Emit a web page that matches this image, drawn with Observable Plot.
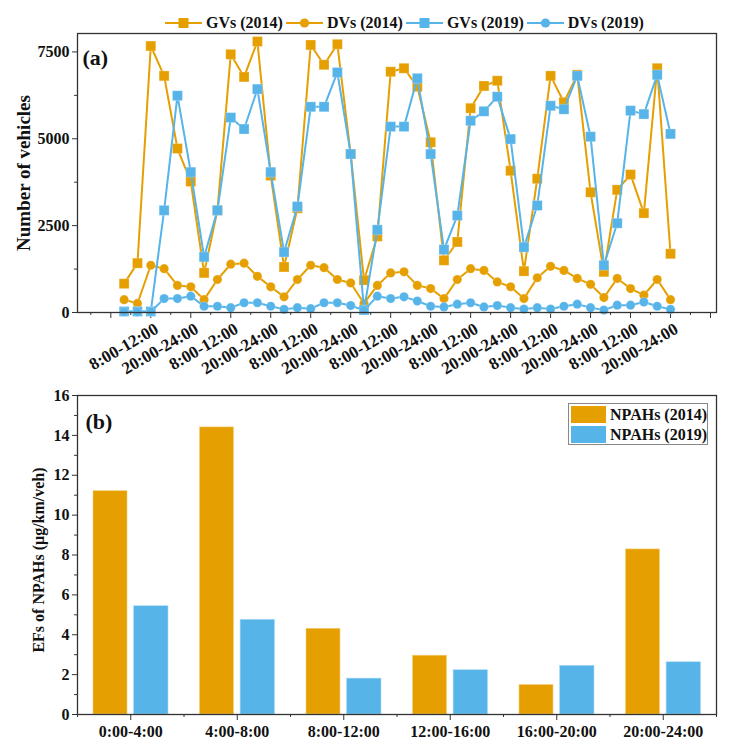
<!DOCTYPE html>
<html>
<head>
<meta charset="utf-8">
<script src="https://cdn.jsdelivr.net/npm/d3@7"></script>
<script src="https://cdn.jsdelivr.net/npm/@observablehq/plot@0.6"></script>
<style>
  html, body { margin: 0; padding: 0; background: #fff; }
  #wrap { position: relative; width: 756px; height: 755px; font-family: "Liberation Serif", "Times New Roman", serif; font-weight: bold; color: #111; }
  #legTop { position: absolute; left: 165px; top: 14px; height: 18px; display: flex; align-items: center; font-size: 16px; white-space: nowrap; }
  #legTop .txt { margin-left: 4px; margin-right: 3px; }
  #legBot { position: absolute; left: 568px; top: 403px; width: 138px; height: 40px; border: 1px solid #888; background: #fff; font-size: 16px; }
  #legBot .row { position: absolute; left: 2px; height: 17px; display: flex; align-items: center; }
  #legBot .sw { width: 35px; height: 17px; margin-right: 4px; }
  svg { display: block; }
</style>
</head>
<body>
<div id="wrap">
  <div id="top"></div>
  <div id="bot"></div>
  <div id="legTop"></div>
  <div id="legBot"></div>
</div>
<script>
const orange = "#E69F00";
const blue = "#56B4E9";

const periods = ["0:00-4:00", "4:00-8:00", "8:00-12:00", "12:00-16:00", "16:00-20:00", "20:00-24:00"];

// Panel (a): number of vehicles, 7 days x 6 periods
const gv2014 = [830,1420,7670,6810,4720,3770,1140,2940,7430,6780,7800,3940,1310,3000,
                7700,7130,7720,4560,930,2190,6930,7030,6500,4900,1500,2030,5880,6520,6670,
                4080,1190,3850,6810,6050,6840,3460,1170,3530,3970,2860,7030,1690];
const dv2014 = [370,260,1360,1260,780,740,370,950,1390,1420,1040,740,450,950,
                1360,1290,950,850,260,780,1140,1170,780,690,400,950,1260,1210,880,
                740,400,1000,1330,1210,980,810,430,980,690,500,950,370];
const gv2019 = [30,30,30,2940,6240,4040,1600,2940,5610,5280,6430,4040,1740,3050,
                5920,5920,6910,4560,70,2380,5350,5350,6740,4560,1810,2790,5520,5790,6210,
                4990,1880,3080,5950,5850,6810,5060,1360,2570,5810,5710,6840,5140];
const dv2019 = [20,20,20,400,400,470,180,180,140,280,280,180,90,140,
                110,280,280,200,60,470,400,450,330,180,160,240,280,160,200,
                140,100,140,100,180,240,140,70,210,210,300,180,90];

// Panel (b): EFs of NPAHs
const npahs2014 = [11.2, 14.4, 4.3, 2.95, 1.48, 8.28];
const npahs2019 = [5.43, 4.75, 1.8, 2.22, 2.44, 2.62];

const seriesA = [
  {name: "GVs (2014)", values: gv2014, color: orange, symbol: "square"},
  {name: "DVs (2014)", values: dv2014, color: orange, symbol: "circle"},
  {name: "GVs (2019)", values: gv2019, color: blue, symbol: "square"},
  {name: "DVs (2019)", values: dv2019, color: blue, symbol: "circle"}
];

const font = "'Liberation Serif', 'Times New Roman', serif";
const style = {fontFamily: font, fontWeight: "bold", fontSize: "16px", color: "#111", background: "transparent", overflow: "visible"};

const nPts = gv2014.length;
const majorX = d3.range(-1, 45, 3);
const minorX = d3.range(-2.5, 45, 3);

const marksA = [
  Plot.axisY({ticks: [0, 2500, 5000, 7500], tickSize: 5, tickPadding: 3, label: null, stroke: "#333", tickFormat: d3.format("d")}),
  Plot.axisY({ticks: [1250, 3750, 6250], tickSize: 3, tickFormat: () => "", label: null, stroke: "#333"}),
  Plot.axisX({ticks: majorX, tickSize: 6, tickPadding: 4, tickRotate: -30, label: null, stroke: "#333", fontSize: 17,
              textStroke: "none", dx: 0,
              tickFormat: i => (i >= 0 && i < nPts) ? periods[((i % 6) + 6) % 6] : ""}),
  Plot.axisX({ticks: minorX, tickSize: 3, tickFormat: () => "", label: null, stroke: "#333"})
];
for (const s of seriesA) {
  const rows = s.values.map((v, i) => ({i, v}));
  marksA.push(Plot.line(rows, {x: "i", y: "v", stroke: s.color, strokeWidth: 2}));
  marksA.push(Plot.dot(rows, {x: "i", y: "v", fill: s.color, symbol: s.symbol,
                              r: s.symbol === "square" ? 5.6 : 4.6, stroke: "#fff", strokeWidth: 0.4, strokeOpacity: 0.6}));
}
marksA.push(Plot.frame({stroke: "#333", strokeWidth: 1.3}));
marksA.push(Plot.text(["(a)"], {frameAnchor: "top-left", dx: 5, dy: 16, fontSize: 22, textAnchor: "start", fill: "#111"}));
marksA.push(Plot.text(["Number of vehicles"], {frameAnchor: "left", dx: -54, rotate: -90, fontSize: 19, textAnchor: "middle", fill: "#111"}));

const chartA = Plot.plot({
  width: 756, height: 380,
  marginLeft: 77, marginRight: 40, marginTop: 33, marginBottom: 68,
  style,
  x: {domain: [-3.5, 44.45], axis: null},
  y: {domain: [0, 8030], axis: null},
  marks: marksA
});
document.getElementById("top").appendChild(chartA);

// shift rotated x tick labels slightly (as in reference) 
d3.select(chartA).selectAll("g[aria-label='x-axis tick label'] text")
  .attr("dx", null);
d3.select(chartA).selectAll("g[aria-label='x-axis tick label']")
  .attr("transform", function() { const t = this.getAttribute("transform") || ""; return t + " translate(6,5)"; });

const rows14 = npahs2014.map((v, i) => ({i, v}));
const rows19 = npahs2019.map((v, i) => ({i, v}));

const chartB = Plot.plot({
  width: 756, height: 375,
  marginLeft: 77, marginRight: 40, marginTop: 15, marginBottom: 41,
  style,
  x: {domain: [-0.5, periods.length - 0.5], axis: null},
  y: {domain: [0, 16], axis: null},
  marks: [
    Plot.axisY({ticks: d3.range(0, 17, 2), tickSize: 5, tickPadding: 3, label: null, stroke: "#333"}),
    Plot.axisY({ticks: d3.range(1, 16, 2), tickSize: 3, tickFormat: () => "", label: null, stroke: "#333"}),
    Plot.axisX({ticks: d3.range(periods.length), tickSize: 6, tickPadding: 5, label: null, stroke: "#333", tickFormat: i => periods[i]}),
    Plot.axisX({ticks: d3.range(-0.5, periods.length, 1), tickSize: 3, tickFormat: () => "", label: null, stroke: "#333"}),
    Plot.rectY(rows14, {x1: d => d.i - 0.5, x2: d => d.i + 0.5, y: "v", fill: orange, insetLeft: 16, insetRight: 56.5, stroke: "#f3cf80", strokeWidth: 0.6}),
    Plot.rectY(rows19, {x1: d => d.i - 0.5, x2: d => d.i + 0.5, y: "v", fill: blue, insetLeft: 56.6, insetRight: 15.5, stroke: "#aadaf4", strokeWidth: 0.6}),
    Plot.frame({stroke: "#333", strokeWidth: 1.3}),
    Plot.text(["(b)"], {frameAnchor: "top-left", dx: 8, dy: 18, fontSize: 22, textAnchor: "start", fill: "#111"}),
    Plot.text(["EFs of NPAHs (μg/km/veh)"], {frameAnchor: "left", dx: -39, dy: 5, rotate: -90, fontSize: 16, textAnchor: "middle", fill: "#111"})
  ]
});
document.getElementById("bot").appendChild(chartB);

// Top legend
const legTop = document.getElementById("legTop");
for (const s of seriesA) {
  const sw = d3.create("svg").attr("width", 37).attr("height", 14);
  sw.append("line").attr("x1", 0).attr("x2", 37).attr("y1", 7).attr("y2", 7).attr("stroke", s.color).attr("stroke-width", 2);
  if (s.symbol === "square") sw.append("rect").attr("x", 13.5).attr("y", 2).attr("width", 10).attr("height", 10).attr("fill", s.color);
  else sw.append("circle").attr("cx", 18.5).attr("cy", 7).attr("r", 4.6).attr("fill", s.color);
  legTop.appendChild(sw.node());
  const t = document.createElement("span");
  t.className = "txt";
  t.textContent = s.name;
  legTop.appendChild(t);
}

// Bottom legend
const legBot = document.getElementById("legBot");
[["NPAHs (2014)", orange], ["NPAHs (2019)", blue]].forEach(([name, color], k) => {
  const row = document.createElement("div");
  row.className = "row";
  row.style.top = (2 + k * 20) + "px";
  const sw = document.createElement("div");
  sw.className = "sw";
  sw.style.background = color;
  row.appendChild(sw);
  const t = document.createElement("span");
  t.textContent = name;
  row.appendChild(t);
  legBot.appendChild(row);
});
</script>
</body>
</html>
